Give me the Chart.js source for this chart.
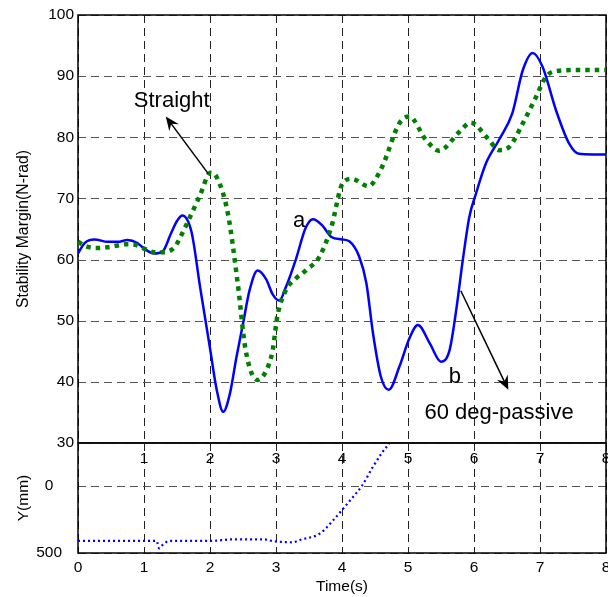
<!DOCTYPE html>
<html>
<head>
<meta charset="utf-8">
<script src="https://cdn.jsdelivr.net/npm/chart.js@4.4.1/dist/chart.umd.min.js"></script>
<style>
  html, body { margin: 0; padding: 0; background: #fff; overflow: hidden; }
  #wrap { position: relative; width: 608px; height: 597px; overflow: hidden; }
  canvas { position: absolute; left: 0; }
  #topChart { top: 0; z-index: 2; }
  #bottomChart { top: 430px; z-index: 1; }
</style>
</head>
<body>
<div id="wrap">
  <canvas id="bottomChart" width="640" height="167"></canvas>
  <canvas id="topChart" width="640" height="475"></canvas>
</div>
<script>
// ticks
const timeTicks = [0, 1, 2, 3, 4, 5, 6, 7, 8];
const marginTicks = [30, 40, 50, 60, 70, 80, 90, 100];
const dispTicks = [0, 500];

// 60 deg-passive (solid blue)
const passiveTime = [0, 0.1, 0.25, 0.45, 0.6, 0.75, 0.9, 1.0, 1.15, 1.28,
  1.41, 1.5, 1.58, 1.72, 1.85, 2.0, 2.1, 2.2, 2.3, 2.4,
  2.5, 2.6, 2.72, 2.85, 2.95, 3.05, 3.15, 3.3, 3.45, 3.56,
  3.7, 3.84, 4.0, 4.11, 4.26, 4.37, 4.47, 4.59, 4.71, 4.87,
  5.02, 5.15, 5.33, 5.5, 5.63, 5.73, 5.83, 5.93, 6.03, 6.18,
  6.38, 6.58, 6.74, 6.89, 7.04, 7.24, 7.44, 7.59, 7.8, 8.0];
const passiveMargin = [61.0, 62.7, 63.3, 62.9, 62.9, 63.2, 62.7, 61.8, 61.0, 61.3,
  64.3, 66.3, 67.2, 64.5, 55.5, 45.5, 38.8, 35.1, 38.0, 44.0,
  49.5, 55.0, 58.2, 56.8, 54.3, 53.3, 55.5, 60.0, 65.2, 66.6,
  65.6, 63.7, 63.3, 63.0, 60.5, 56.1, 47.9, 40.8, 38.7, 42.5,
  47.1, 49.3, 46.3, 43.3, 45.2, 51.7, 59.9, 67.0, 70.8, 75.7,
  79.6, 83.9, 91.0, 93.8, 91.5, 84.5, 79.0, 77.3, 77.2, 77.2];

// Straight (thick green dots)
const straightTime = [0, 0.14, 0.3, 0.44, 0.6, 0.72, 0.87, 1.0, 1.15, 1.28,
  1.46, 1.58, 1.72, 1.84, 2.01, 2.1, 2.27, 2.42, 2.54, 2.72,
  2.85, 2.95, 3.02, 3.15, 3.3, 3.46, 3.66, 3.84, 4.01, 4.15,
  4.4, 4.6, 4.87, 5.02, 5.27, 5.47, 5.78, 5.95, 6.21, 6.38,
  6.54, 6.74, 6.94, 7.09, 7.29, 7.6, 8.0];
const straightMargin = [62.9, 62.1, 61.9, 62.0, 62.3, 62.5, 62.4, 61.8, 61.2, 61.2,
  62.0, 64.3, 67.5, 70.3, 74.2, 73.5, 67.6, 56.1, 45.2, 40.3,
  41.8, 45.2, 50.7, 55.0, 56.9, 58.3, 60.5, 65.4, 72.5, 73.2,
  72.0, 75.0, 82.3, 83.4, 79.6, 77.8, 80.9, 82.4, 79.8, 77.9,
  78.5, 82.3, 86.6, 89.9, 90.9, 91.0, 91.0];

// Y(mm), lower panel (blue dots)
const yTime = [0, 1.19, 1.23, 1.29, 1.39, 2.0, 2.35, 2.81, 2.96, 3.26,
  3.36, 3.67, 3.87, 4.0, 4.17, 4.3, 4.47, 4.6, 4.72, 4.8];
const yDisp = [410, 410, 465, 435, 410, 410, 398, 398, 412, 420,
  403, 353, 254, 179, 80, 0, -144, -244, -323, -390];

const notes = [
  { text: 'Straight', t: 1.42, v: 85 },
  { text: 'a', t: 3.35, v: 65.4 },
  { text: 'b', t: 5.71, v: 39.75 },
  { text: '60 deg-passive', t: 6.38, v: 34.0 }
];
const arrows = [
  { from: [1.97, 74.1], to: [1.33, 83.4] },
  { from: [5.80, 54.9], to: [6.52, 38.7] }
];

Chart.defaults.color = '#000';
Chart.defaults.font.family = '"Liberation Sans", Arial, sans-serif';
Chart.defaults.font.size = 15.5;

const pts = (xs, ys) => xs.map((x, i) => ({ x: x, y: ys[i] }));
const setTicks = list => scale => { scale.ticks = list.map(v => ({ value: v })); };
// keep the plot box where the layout padding puts it
const fitBox = (w, h) => s => {
  if (w) s.width = w;
  if (h) s.height = h;
  s.paddingTop = 0; s.paddingBottom = 0; s.paddingLeft = 0; s.paddingRight = 0;
};

// dashed grid + solid frame, under the lines
const framePlugin = {
  id: 'frame',
  beforeDatasetsDraw(chart) {
    const { ctx, chartArea: a, scales: { x, y } } = chart;
    ctx.save();
    ctx.lineWidth = 1;
    ctx.setLineDash([8, 5]);
    ctx.strokeStyle = '#222';
    x.ticks.forEach(t => {
      const px = Math.round(x.getPixelForValue(t.value)) + 0.5;
      ctx.beginPath(); ctx.moveTo(px, a.top); ctx.lineTo(px, a.bottom); ctx.stroke();
    });
    ctx.strokeStyle = '#555';
    y.ticks.forEach(t => {
      const py = Math.round(y.getPixelForValue(t.value)) + 0.5;
      ctx.beginPath(); ctx.moveTo(a.left, py); ctx.lineTo(a.right, py); ctx.stroke();
    });
    ctx.setLineDash([]);
    ctx.strokeStyle = '#000';
    ctx.lineWidth = 1.5;
    ctx.strokeRect(a.left, a.top, a.right - a.left, a.bottom - a.top);
    ctx.restore();
  }
};

const notesPlugin = {
  id: 'notes',
  afterDatasetsDraw(chart) {
    const { ctx, scales: { x, y } } = chart;
    ctx.save();
    ctx.fillStyle = '#000';
    ctx.strokeStyle = '#000';
    ctx.font = '22px "Liberation Sans", Arial, sans-serif';
    ctx.textAlign = 'center';
    ctx.textBaseline = 'alphabetic';
    notes.forEach(n => ctx.fillText(n.text, x.getPixelForValue(n.t), y.getPixelForValue(n.v)));
    arrows.forEach(a => {
      const x0 = x.getPixelForValue(a.from[0]), y0 = y.getPixelForValue(a.from[1]);
      const x1 = x.getPixelForValue(a.to[0]), y1 = y.getPixelForValue(a.to[1]);
      const ang = Math.atan2(y1 - y0, x1 - x0);
      ctx.lineWidth = 1.5;
      ctx.beginPath();
      ctx.moveTo(x0, y0);
      ctx.lineTo(x1 - 8 * Math.cos(ang), y1 - 8 * Math.sin(ang));
      ctx.stroke();
      const len = 14, half = 6;
      const bx = x1 - len * Math.cos(ang), by = y1 - len * Math.sin(ang);
      const nx = x1 - 0.65 * len * Math.cos(ang), ny = y1 - 0.65 * len * Math.sin(ang);
      ctx.beginPath();
      ctx.moveTo(x1, y1);
      ctx.lineTo(bx + half * Math.sin(ang), by - half * Math.cos(ang));
      ctx.lineTo(nx, ny);
      ctx.lineTo(bx - half * Math.sin(ang), by + half * Math.cos(ang));
      ctx.closePath();
      ctx.fill();
    });
    ctx.restore();
  }
};

const noGrid = { display: false, drawTicks: false };

new Chart(document.getElementById('topChart'), {
  type: 'line',
  data: {
    datasets: [
      {
        label: 'Straight',
        data: pts(straightTime, straightMargin),
        borderColor: '#008000',
        borderWidth: 4.5,
        borderDash: [4.5, 5],
        pointRadius: 0,
        cubicInterpolationMode: 'monotone',
        order: 1
      },
      {
        label: '60 deg-passive',
        data: pts(passiveTime, passiveMargin),
        borderColor: '#0000ff',
        borderWidth: 2.5,
        pointRadius: 0,
        cubicInterpolationMode: 'monotone',
        order: 2
      }
    ]
  },
  options: {
    responsive: false,
    animation: false,
    layout: { padding: { left: 0, right: 34, top: 15, bottom: 0 } },
    plugins: { legend: { display: false }, tooltip: { enabled: false } },
    scales: {
      x: {
        type: 'linear', min: 0, max: 8,
        afterBuildTicks: setTicks(timeTicks),
        afterFit: fitBox(0, 32),
        grid: noGrid,
        border: { display: false },
        ticks: { padding: 6, maxRotation: 0, callback: v => (v === 0 ? '' : v) }
      },
      y: {
        min: 30, max: 100,
        afterBuildTicks: setTicks(marginTicks),
        afterFit: fitBox(78, 0),
        grid: noGrid,
        border: { display: false },
        ticks: { padding: 4 },
        title: { display: true, text: 'Stability Margin(N-rad)', font: { size: 15.8 }, padding: { top: 14, bottom: 0 } }
      }
    }
  },
  plugins: [framePlugin, notesPlugin]
});

new Chart(document.getElementById('bottomChart'), {
  type: 'line',
  data: {
    datasets: [
      {
        label: 'Y(mm)',
        data: pts(yTime, yDisp),
        borderColor: '#0000ff',
        borderWidth: 2.2,
        borderDash: [2, 3],
        pointRadius: 0,
        cubicInterpolationMode: 'monotone'
      }
    ]
  },
  options: {
    responsive: false,
    animation: false,
    layout: { padding: { left: 0, right: 34, top: 13, bottom: 0 } },
    plugins: { legend: { display: false }, tooltip: { enabled: false } },
    scales: {
      x: {
        type: 'linear', min: 0, max: 8,
        afterBuildTicks: setTicks(timeTicks),
        afterFit: fitBox(0, 44),
        grid: noGrid,
        border: { display: false },
        ticks: { padding: 5, maxRotation: 0 },
        title: { display: true, text: 'Time(s)', padding: { top: 0, bottom: 1 } }
      },
      y: {
        min: -321, max: 500, reverse: true,
        afterBuildTicks: setTicks(dispTicks),
        afterFit: fitBox(78, 0),
        grid: noGrid,
        border: { display: false },
        ticks: { padding: 16, crossAlign: 'center' },
        title: { display: true, text: 'Y(mm)', padding: { top: 14, bottom: 0 } }
      }
    }
  },
  plugins: [framePlugin]
});
</script>
</body>
</html>
